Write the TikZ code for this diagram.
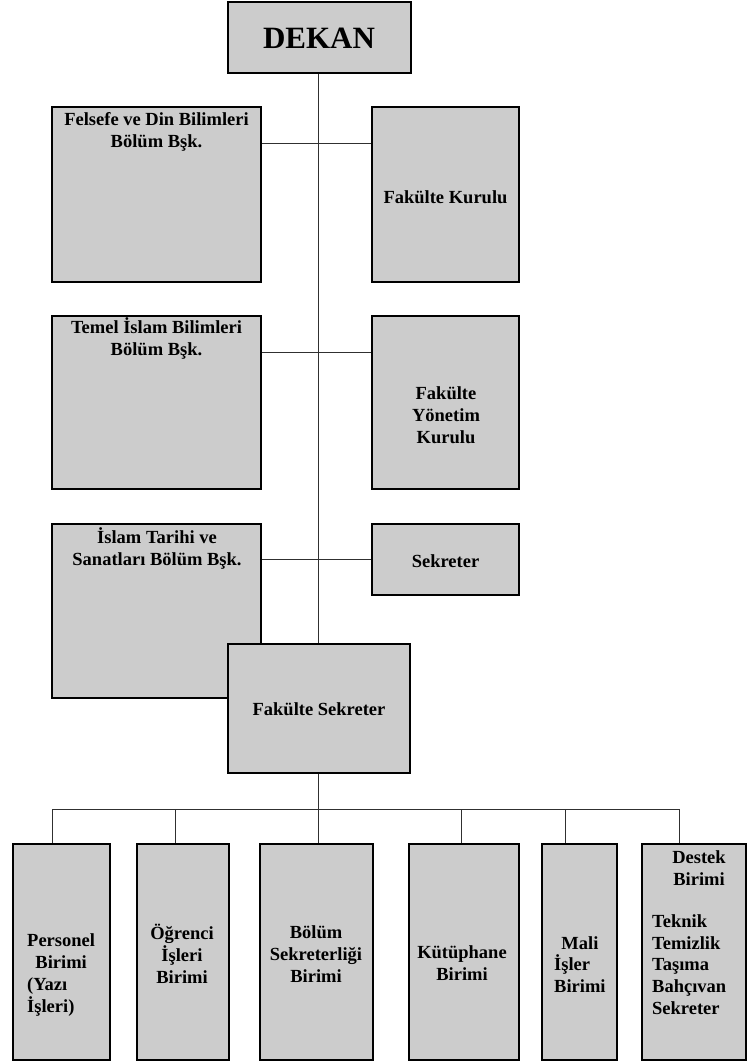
\documentclass[tikz,border=0pt]{standalone}
\usepackage{fontspec}
\setmainfont{Liberation Serif}
\usepackage{calc}
\begin{document}
\begin{tikzpicture}[x=1pt,y=-1pt,
  box/.style={draw=black, line width=1.2pt, fill=boxgray, inner sep=0pt},
  lbl/.style={font=\bfseries\fontsize{18.5}{21.7}\selectfont, inner sep=0pt, align=center},
  lbll/.style={lbl, align=left, anchor=west},
  conn/.style={draw=linegray, line width=1pt}]
\definecolor{boxgray}{HTML}{CCCCCC}
\definecolor{linegray}{HTML}{303030}
\useasboundingbox (0,0) rectangle (748,1061);
% coordinates for connectors
\coordinate (r1) at (318,143);
\coordinate (r2) at (318,352);
\coordinate (r3) at (318,559);
\coordinate (bus) at (318,809);
\coordinate (d1) at (52,809);
\coordinate (d2) at (175,809);
\coordinate (d3) at (318,809);
\coordinate (d4) at (461,809);
\coordinate (d5) at (565,809);
\coordinate (d6) at (679,809);
% boxes
\node[box, minimum width=183, minimum height=71] (dekan) at (319.5,37.5) {};
\node[box, minimum width=209, minimum height=175] (felsefe) at (156.5,194.5) {};
\node[box, minimum width=147, minimum height=175] (kurulu) at (445.5,194.5) {};
\node[box, minimum width=209, minimum height=173] (temel) at (156.5,402.5) {};
\node[box, minimum width=147, minimum height=173] (yonetim) at (445.5,402.5) {};
\node[box, minimum width=209, minimum height=174] (islam) at (156.5,611) {};
\node[box, minimum width=147, minimum height=71] (sekreter) at (445.5,559.5) {};
% connectors (spine and branches)
\draw[conn] (r1 |- dekan.south) -- (r1 |- 0,644);
\draw[conn] (felsefe.east |- r1) -- (kurulu.west |- r1);
\draw[conn] (temel.east |- r2) -- (yonetim.west |- r2);
\draw[conn] (islam.east |- r3) -- (sekreter.west |- r3);
\node[box, minimum width=182, minimum height=129] (fsek) at (319,708.5) {};
% bottom boxes
\node[box, minimum width=97, minimum height=216] (b1) at (61.5,952) {};
\node[box, minimum width=92, minimum height=216] (b2) at (183,952) {};
\node[box, minimum width=113, minimum height=216] (b3) at (316.5,952) {};
\node[box, minimum width=110, minimum height=216] (b4) at (464,952) {};
\node[box, minimum width=75, minimum height=216] (b5) at (579.5,952) {};
\node[box, minimum width=104, minimum height=216] (b6) at (694,952) {};
\draw[conn] (fsek.south -| bus) -- (bus);
\draw[conn] (d1) -- (d6);
\draw[conn] (d1) -- (d1 |- b1.north);
\draw[conn] (d2) -- (d2 |- b2.north);
\draw[conn] (d3) -- (d3 |- b3.north);
\draw[conn] (d4) -- (d4 |- b4.north);
\draw[conn] (d5) -- (d5 |- b5.north);
\draw[conn] (d6) -- (d6 |- b6.north);
% texts
\node[lbl, font=\bfseries\fontsize{31}{35}\selectfont] (tdekan) at (319,38) {DEKAN};
\node[lbl] (tfelsefe) at (156.5,132) {Felsefe ve Din Bilimleri\\Bölüm Bşk.};
\node[lbl] (tkurulu) at (445.5,197) {Fakülte Kurulu};
\node[lbl] (ttemel) at (156.5,338.5) {Temel İslam Bilimleri\\Bölüm Bşk.};
\node[lbl] (tyonetim) at (446,415) {Fakülte\\Yönetim\\Kurulu};
\node[lbl] (tislam) at (157,548.5) {İslam Tarihi ve\\Sanatları Bölüm Bşk.};
\node[lbl] (tsekreter) at (445.5,561) {Sekreter};
\node[lbl] (tfsek) at (319,709) {Fakülte Sekreter};
\node[lbll] (tb1) at (27,975) {Personel\\\makebox[\widthof{Personel}]{Birimi}\\(Yazı\\İşleri)};
\node[lbl] (tb2) at (182,954) {Öğrenci\\İşleri\\Birimi};
\node[lbl] (tb3) at (316,954) {Bölüm\\Sekreterliği\\Birimi};
\node[lbl] (tb4) at (462,963) {Kütüphane\\Birimi};
\node[lbll] (tb5) at (554,964.5) {\makebox[\widthof{Birimi}]{Mali}\\İşler\\Birimi};
\node[lbl] (tb6a) at (699,868) {Destek\\Birimi};
\node[lbll] (tb6b) at (652,964.5) {Teknik\\Temizlik\\Taşıma\\Bahçıvan\\Sekreter};
\end{tikzpicture}
\end{document}
